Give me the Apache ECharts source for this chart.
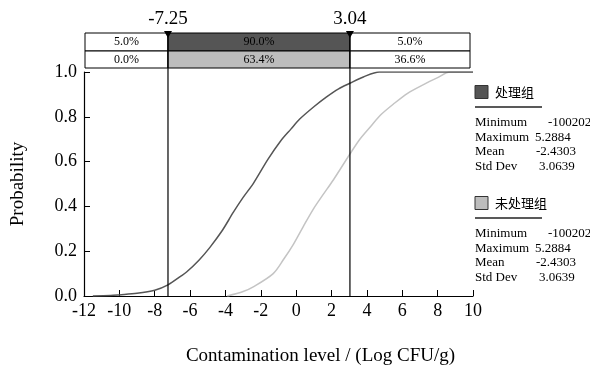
<!DOCTYPE html>
<html>
<head>
<meta charset="utf-8">
<script src="https://cdn.jsdelivr.net/npm/echarts@6/dist/echarts.min.js"></script>
<style>
  html, body { margin: 0; padding: 0; background: #fff; }
  #chart { width: 590px; height: 371px; }
</style>
</head>
<body>
<div id="chart"></div>
<script>
// curve points: [log CFU/g, cumulative probability]
const treatedCurve = [
  [-11.5, 0], [-10.5, 0.002], [-10, 0.005], [-9, 0.012], [-8, 0.026], [-7.25, 0.05],
  [-6.5, 0.09], [-6.2, 0.107], [-5.5, 0.16], [-4.9, 0.215], [-4.2, 0.29], [-3.55, 0.374],
  [-3, 0.44], [-2.42, 0.503], [-1.6, 0.61], [-0.9, 0.69], [-0.3, 0.745], [0.2, 0.79],
  [1, 0.845], [1.7, 0.888], [2.4, 0.925], [3.04, 0.95], [3.8, 0.978], [4.7, 1.0], [10, 1.0]
];
const untreatedCurve = [
  [-3.9, 0], [-3, 0.02], [-2.4, 0.042], [-1.3, 0.10], [-0.7, 0.165], [-0.15, 0.232],
  [0.4, 0.31], [0.97, 0.388], [1.5, 0.45], [2.1, 0.518], [3.04, 0.634], [3.6, 0.70],
  [4.2, 0.756], [4.8, 0.81], [5.5, 0.857], [6.3, 0.905], [7.2, 0.944], [8, 0.975],
  [8.7, 1.0], [10, 1.0]
];
const cutoffs = [-7.25, 3.04];
const cutoffLabels = ['-7.25', '3.04'];
const treatedRow = ['5.0%', '90.0%', '5.0%'];
const untreatedRow = ['0.0%', '63.4%', '36.6%'];
const seriesNames = ['处理组', '未处理组'];
const statNames = ['Minimum', 'Maximum', 'Mean', 'Std Dev'];
const treatedStats = ['-1002027', '5.2884', '-2.4303', '3.0639'];
const untreatedStats = ['-1002027', '5.2884', '-2.4303', '3.0639'];

const font = 'Liberation Serif, Times New Roman, serif';
const darkGray = '#555555';
const lightGray = '#bdbdbd';

const chart = echarts.init(document.getElementById('chart'));

chart.setOption({
  animation: false,
  grid: { left: 84, right: 117, top: 72, bottom: 68 },
  xAxis: {
    type: 'value', min: -12, max: 10, interval: 2,
    name: 'Contamination level / (Log CFU/g)',
    nameLocation: 'middle', nameGap: 51,
    nameTextStyle: { fontFamily: font, fontSize: 19, color: '#000', padding: [0, 0, 0, 84] },
    axisLine: { onZero: false, lineStyle: { color: '#000', width: 1.2 } },
    axisTick: { inside: true, length: 6, lineStyle: { color: '#000' } },
    axisLabel: { fontFamily: font, fontSize: 18, color: '#000', margin: 6 },
    splitLine: { show: false }
  },
  yAxis: {
    type: 'value', min: 0, max: 1, interval: 0.2,
    name: 'Probability', nameLocation: 'middle', nameGap: 56,
    nameTextStyle: { fontFamily: font, fontSize: 19, color: '#000' },
    axisLine: { show: true, onZero: false, lineStyle: { color: '#000', width: 1.2 } },
    axisTick: { inside: true, length: 6, lineStyle: { color: '#000' } },
    axisLabel: { fontFamily: font, fontSize: 18, color: '#000', margin: 7,
                 formatter: v => v.toFixed(1) },
    splitLine: { show: false }
  },
  series: [
    { name: seriesNames[0], type: 'line', data: treatedCurve, smooth: 0.3, showSymbol: false,
      lineStyle: { color: darkGray, width: 1.5 }, z: 3 },
    { name: seriesNames[1], type: 'line', data: untreatedCurve, smooth: 0.3, showSymbol: false,
      lineStyle: { color: '#c4c4c4', width: 1.5 }, z: 2 }
  ]
});

// table, cutoff lines and the side legend
const px = v => chart.convertToPixel({ xAxisIndex: 0 }, v);
const py = v => chart.convertToPixel({ yAxisIndex: 0 }, v);
const left = px(-12) + 1, right = px(10) - 3;
const colEdges = [left, px(cutoffs[0]), px(cutoffs[1]), right];
const rowTops = [33, 51, 68];
const g = [];

[treatedRow, untreatedRow].forEach((row, r) => {
  row.forEach((txt, c) => {
    const fill = c === 1 ? (r === 0 ? darkGray : lightGray) : '#fff';
    g.push({
      type: 'rect',
      shape: { x: colEdges[c], y: rowTops[r], width: colEdges[c + 1] - colEdges[c], height: rowTops[r + 1] - rowTops[r] },
      style: { fill: fill, stroke: '#000', lineWidth: 1 }
    });
    g.push({
      type: 'text',
      x: (colEdges[c] + colEdges[c + 1]) / 2, y: (rowTops[r] + rowTops[r + 1]) / 2,
      style: { text: txt, fontFamily: font, fontSize: 12, fill: '#000', align: 'center', verticalAlign: 'middle' }
    });
  });
});

cutoffs.forEach((v, i) => {
  const x = px(v);
  g.push({ type: 'line', shape: { x1: x, y1: rowTops[0], x2: x, y2: py(0) },
           style: { stroke: '#000', lineWidth: 1.2 }, z: 10 });
  g.push({ type: 'polygon', shape: { points: [[x - 4, rowTops[0] - 2], [x + 4, rowTops[0] - 2], [x, rowTops[0] + 5]] },
           style: { fill: '#000' }, z: 11 });
  g.push({ type: 'text', x: x, y: 19,
           style: { text: cutoffLabels[i], fontFamily: font, fontSize: 19, fill: '#000', align: 'center', verticalAlign: 'middle' } });
});

const legendBlocks = [
  { top: 92, color: darkGray, name: seriesNames[0], stats: treatedStats },
  { top: 203, color: lightGray, name: seriesNames[1], stats: untreatedStats }
];
const valueX = [548, 535, 536, 539];
legendBlocks.forEach(b => {
  g.push({ type: 'rect', shape: { x: 475, y: b.top - 6.5, width: 13, height: 13 },
           style: { fill: b.color, stroke: '#333', lineWidth: 1 } });
  g.push({ type: 'text', x: 495, y: b.top,
           style: { text: b.name, fontFamily: 'Noto Sans CJK SC', fontSize: 13, fill: '#000', verticalAlign: 'middle' } });
  g.push({ type: 'line', shape: { x1: 475, y1: b.top + 15, x2: 542, y2: b.top + 15 },
           style: { stroke: '#222', lineWidth: 1.5 } });
  statNames.forEach((s, i) => {
    const y = b.top + 31 + i * 14.5;
    g.push({ type: 'text', x: 475, y: y,
             style: { text: s, fontFamily: font, fontSize: 13, fill: '#000', verticalAlign: 'middle' } });
    g.push({ type: 'text', x: valueX[i], y: y,
             style: { text: b.stats[i], fontFamily: font, fontSize: 13, fill: '#000', verticalAlign: 'middle' } });
  });
});

chart.setOption({ graphic: g });
</script>
</body>
</html>
